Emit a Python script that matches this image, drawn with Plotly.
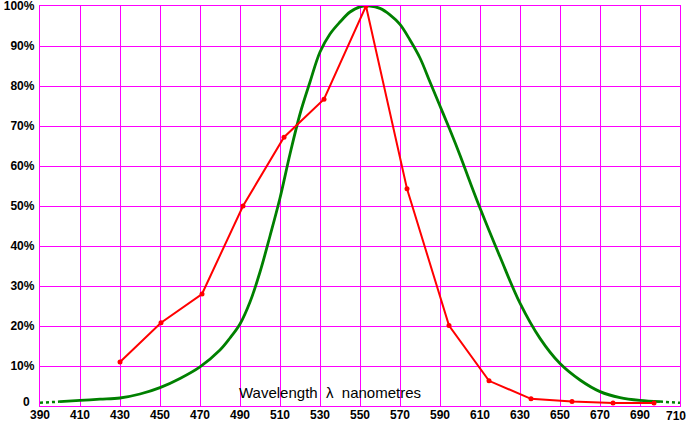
import plotly.graph_objects as go

# Green curve (luminosity), percent
green_nm = [400, 410, 420, 430, 440, 450, 460, 470, 480, 485, 490, 495, 500, 505, 510, 515, 520,
            525, 530, 535, 540, 545, 550, 555, 560, 565, 570, 575, 580, 585, 590, 595, 600,
            605, 610, 620, 630, 640, 650, 660, 670, 680, 690, 700]
green_pct = [1.1, 1.4, 1.7, 2.0, 3.0, 4.6, 6.9, 9.8, 14.0, 17.0, 20.5, 26.0, 33.5, 42.5, 52.0, 63.0, 73.0,
             81.0, 88.5, 93.0, 96.0, 98.5, 99.8, 100.0, 99.4, 97.8, 95.4, 91.5, 87.0, 81.0, 75.0, 69.0, 62.7,
             56.0, 49.5, 37.3, 25.7, 16.9, 10.6, 6.5, 3.6, 2.1, 1.4, 1.1]
green_left_nm = [390, 400]
green_left_pct = [0.8, 1.1]
green_right_nm = [700, 710]
green_right_pct = [1.1, 0.8]

# Red series (measured points), percent
red_nm = [430, 450.5, 471, 491.5, 512, 532, 553, 573.5, 594.5, 614.5, 635.5, 656, 676.5, 697]
red_pct = [11.0, 20.8, 28.0, 50.0, 67.2, 76.7, 100.0, 54.3, 20.1, 6.3, 1.8, 1.1, 0.75, 0.75]

x_ticks = list(range(390, 711, 20))
x_labels = [str(v) for v in x_ticks[:-1]] + [""]
last_x_label = str(x_ticks[-1])
y_ticks = list(range(0, 101, 10))
y_labels = [""] + [f"{v}%" for v in y_ticks[1:]]

GRID = "#FF00FF"
GREEN = "#008000"
RED = "#FF0000"
FONT = "Liberation Sans"

fig = go.Figure()
fig.add_trace(go.Scatter(x=green_left_nm, y=green_left_pct, mode="lines",
                         line=dict(color=GREEN, width=2.5, dash="dot"), hoverinfo="skip"))
fig.add_trace(go.Scatter(x=green_right_nm, y=green_right_pct, mode="lines",
                         line=dict(color=GREEN, width=2.5, dash="dot"), hoverinfo="skip"))
fig.add_trace(go.Scatter(x=green_nm, y=green_pct, mode="lines", line_shape="spline",
                         line=dict(color=GREEN, width=2.8)))
fig.add_trace(go.Scatter(x=red_nm, y=red_pct, mode="lines+markers",
                         line=dict(color=RED, width=2),
                         marker=dict(color=RED, size=5)))

fig.add_annotation(x=535, y=3.5, xref="x", yref="y", text="Wavelength  \u03bb  nanometres",
                   showarrow=False, font=dict(family=FONT, size=15, color="black"),
                   xanchor="center", yanchor="middle")
# zero label on the y axis (raised slightly above the axis line, as in the reference)
fig.add_annotation(x=0, y=1, xref="paper", yref="y", text="<b>0</b>", showarrow=False,
                   xanchor="right", yanchor="middle", xshift=-8,
                   font=dict(family=FONT, size=12, color="black"))
# last x label kept inside the page, as in the reference
fig.add_annotation(x=1, y=0, xref="paper", yref="paper", text=f"<b>{last_x_label}</b>",
                   showarrow=False, xanchor="right", yanchor="top", xshift=8, yshift=-1,
                   font=dict(family=FONT, size=12, color="black"))

fig.update_layout(
    width=688, height=423,
    margin=dict(l=40, r=8, t=6, b=17),
    paper_bgcolor="white", plot_bgcolor="white",
    showlegend=False,
    font=dict(family=FONT, size=12, color="black"),
)
fig.update_xaxes(range=[390, 710], tickvals=x_ticks, ticktext=x_labels,
                 showgrid=True, gridcolor=GRID, gridwidth=1.3,
                 showline=True, linecolor=GRID, linewidth=1.3, mirror=True,
                 zeroline=False, ticks="", automargin=False, ticklabelstandoff=-3,
                 ticklabeloverflow="allow",
                 tickfont=dict(family=FONT, size=12, color="black", weight="bold"))
fig.update_yaxes(range=[0, 100], tickvals=y_ticks, ticktext=y_labels,
                 showgrid=True, gridcolor=GRID, gridwidth=1.3,
                 showline=True, linecolor=GRID, linewidth=1.3, mirror=True,
                 zeroline=False, ticks="", automargin=False, ticklabelstandoff=2,
                 ticklabeloverflow="allow",
                 tickfont=dict(family=FONT, size=12, color="black", weight="bold"))

fig.write_html("out.html")
